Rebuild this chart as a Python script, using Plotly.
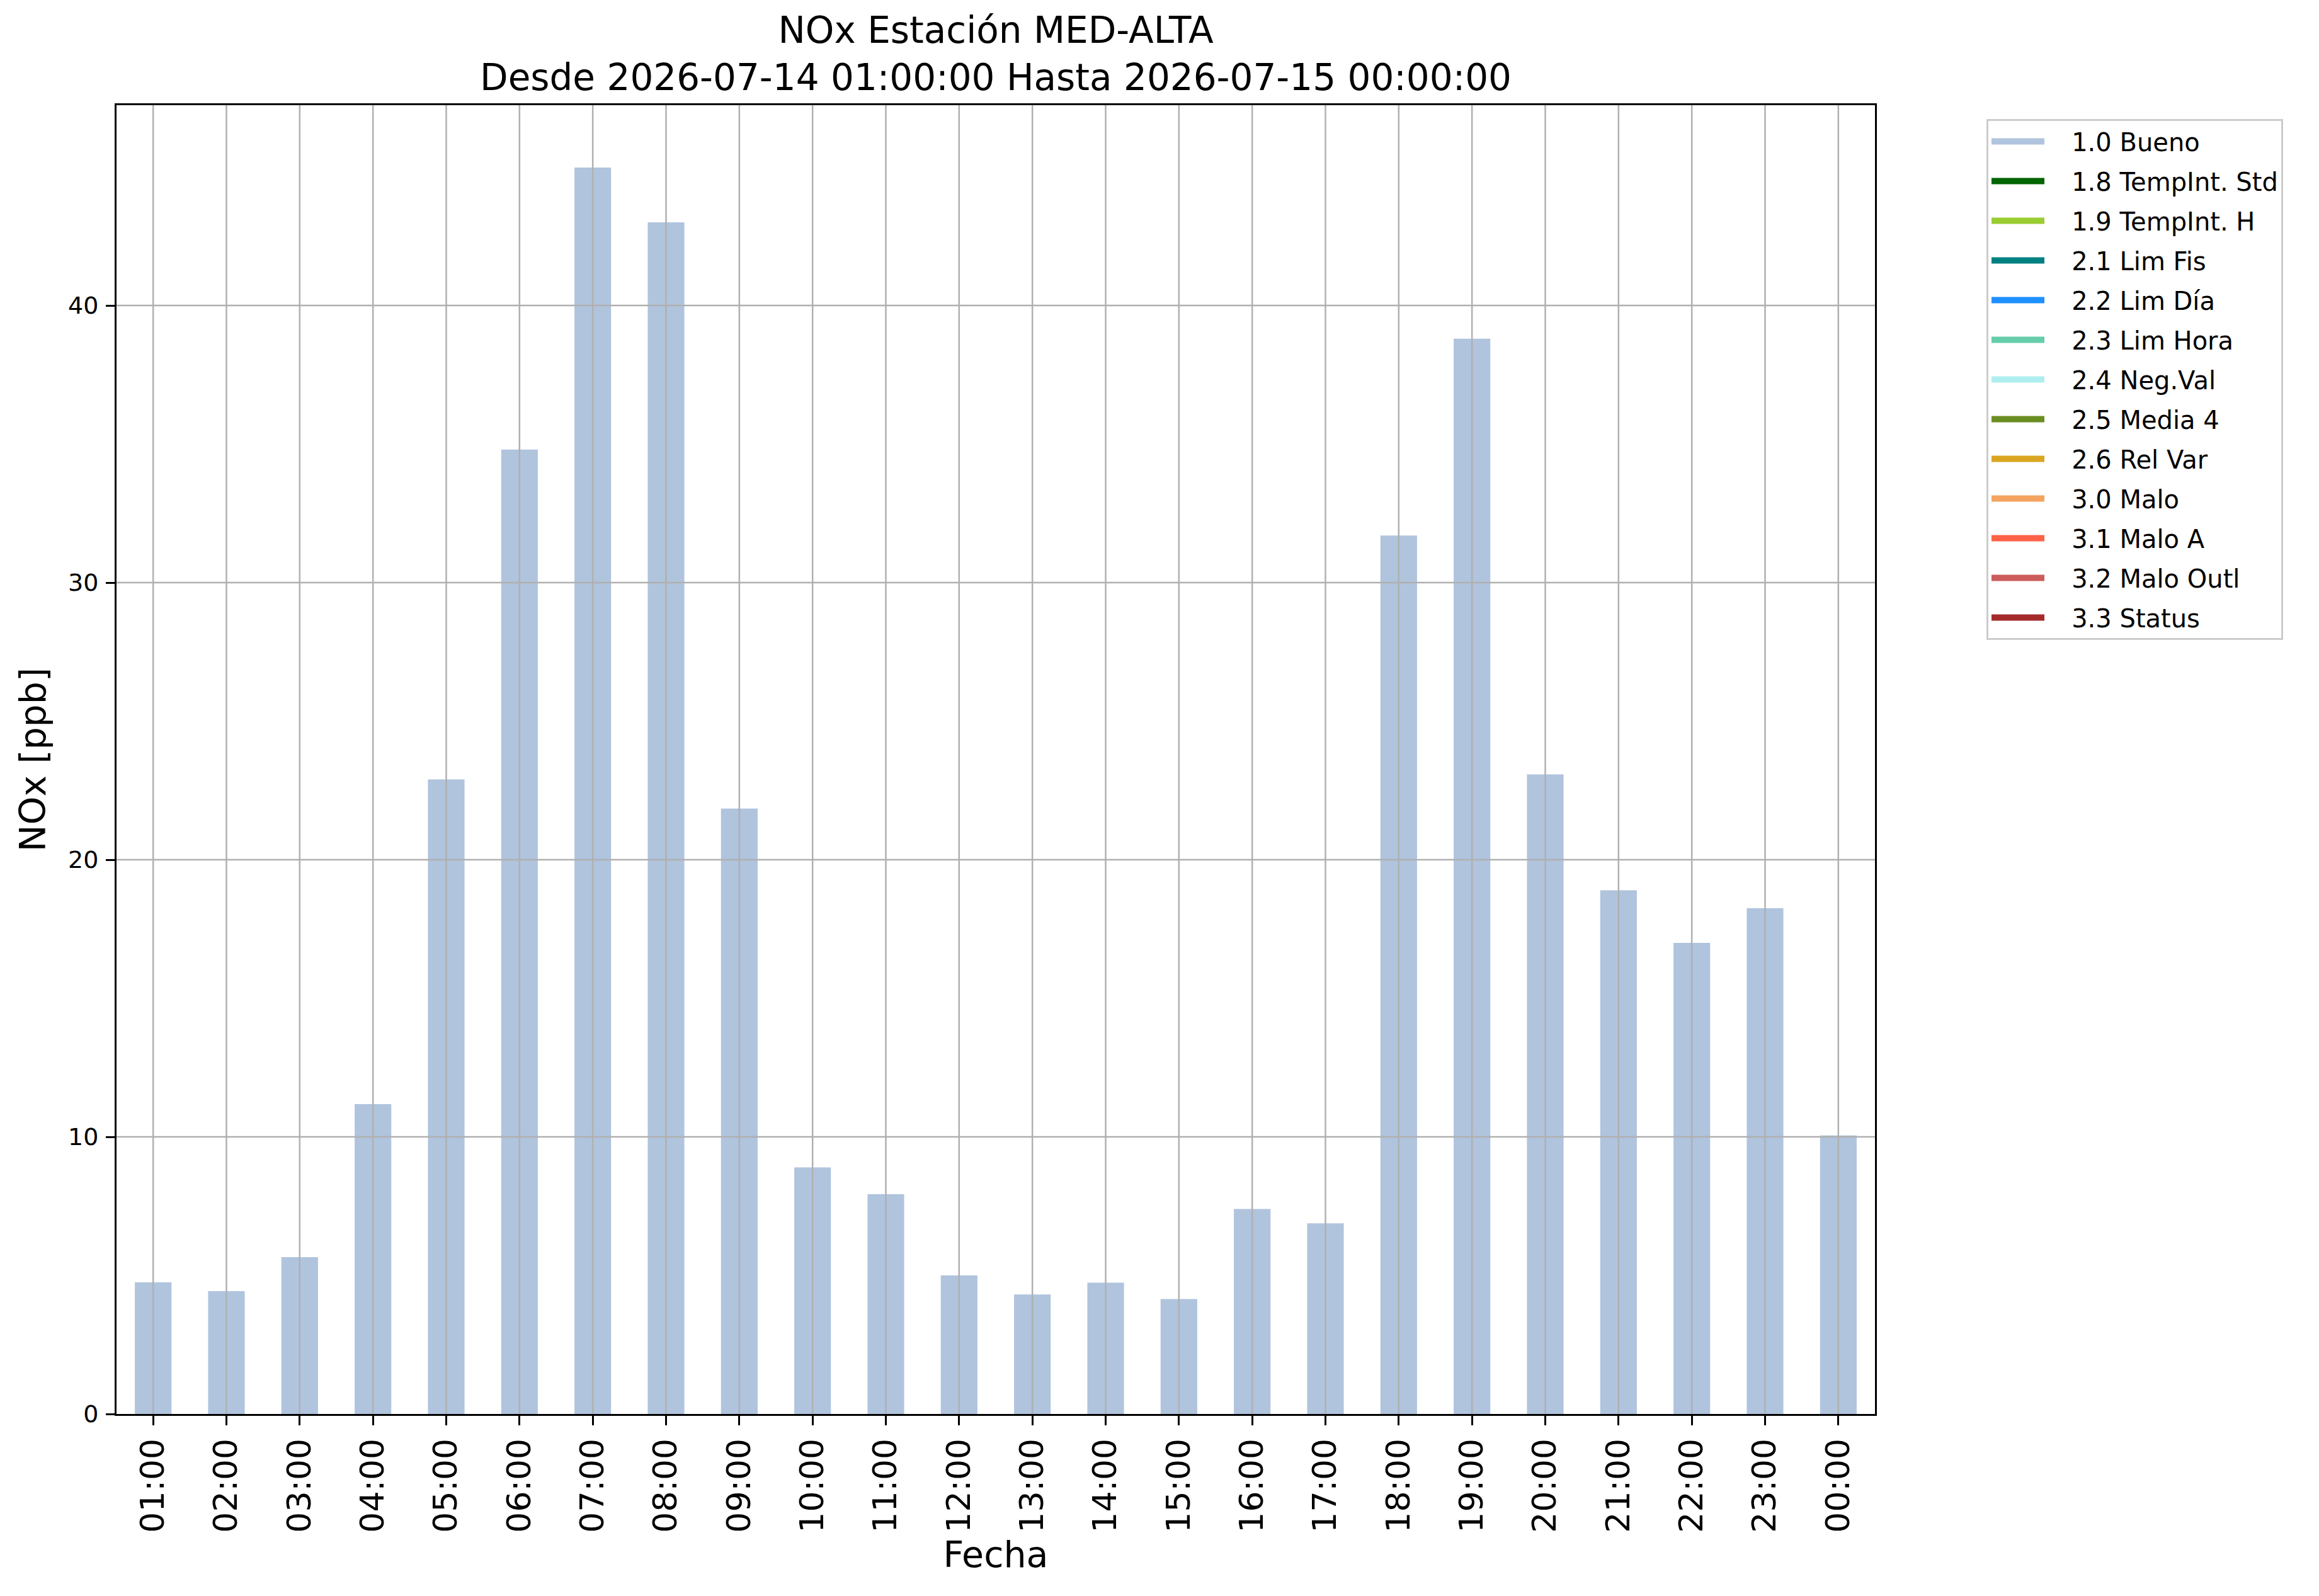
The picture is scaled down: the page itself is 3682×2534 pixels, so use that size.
import plotly.graph_objects as go

# --- Datos ---
HORAS = ['01:00', '02:00', '03:00', '04:00', '05:00', '06:00', '07:00', '08:00',
         '09:00', '10:00', '11:00', '12:00', '13:00', '14:00', '15:00', '16:00',
         '17:00', '18:00', '19:00', '20:00', '21:00', '22:00', '23:00', '00:00']

# NOx [ppb] con flag 1.0 (Bueno); el resto de flags no tiene datos en el periodo
NOX_BUENO = [4.75, 4.43, 5.66, 11.18, 22.9, 34.8, 44.98, 43.0,
             21.85, 8.9, 7.93, 5.0, 4.31, 4.74, 4.15, 7.4,
             6.88, 31.7, 38.8, 23.08, 18.9, 17.0, 18.25, 10.05]
SIN_DATOS = [None] * len(HORAS)

FLAGS = ['1.0 Bueno', '1.8 TempInt. Std', '1.9 TempInt. H', '2.1 Lim Fis',
         '2.2 Lim Día', '2.3 Lim Hora', '2.4 Neg.Val', '2.5 Media 4',
         '2.6 Rel Var', '3.0 Malo', '3.1 Malo A', '3.2 Malo Outl', '3.3 Status']
COLORES = ['#B0C4DE', '#006400', '#9ACD32', '#008080', '#1E90FF', '#66CDAA',
           '#AFEEEE', '#6B8E23', '#DAA520', '#F4A460', '#FF6347', '#CD5C5C',
           '#A52A2A']

Y_TICKS = [0, 10, 20, 30, 40]

TITULO = 'NOx Estación MED-ALTA<br>Desde 2026-07-14 01:00:00 Hasta 2026-07-15 00:00:00'
FUENTE = 'DejaVu Sans'
GRIS_GRID = '#b0b0b0'
SEP_LEYENDA = '\u00a0\u00a0\u00a0'  # hueco entre el parche y el texto de la leyenda


def main():
    fig = go.Figure()

    # una serie de barras por flag, solo "Bueno" tiene valores
    for i, (flag, color) in enumerate(zip(FLAGS, COLORES)):
        valores = NOX_BUENO if i == 0 else SIN_DATOS
        fig.add_trace(go.Bar(
            x=HORAS,
            y=valores,
            name=flag,
            legendgroup=flag,
            showlegend=False,
            marker=dict(color=color, line=dict(width=0)),
            width=0.5,
        ))
        # entrada de leyenda (franja de color ancha, como el parche de matplotlib)
        fig.add_trace(go.Scatter(
            x=[None],
            y=[None],
            name=SEP_LEYENDA + flag,
            legendgroup=flag,
            mode='lines',
            line=dict(color=color, width=28),
            hoverinfo='skip',
        ))

    # rejilla encima de las barras (como en matplotlib)
    shapes = []
    for h in HORAS:
        shapes.append(dict(type='line', layer='above', xref='x', yref='paper',
                           x0=h, x1=h, y0=0, y1=1,
                           line=dict(color=GRIS_GRID, width=2.5)))
    for v in Y_TICKS:
        if v == 0:
            continue
        shapes.append(dict(type='line', layer='above', xref='paper', yref='y',
                           x0=0, x1=1, y0=v, y1=v,
                           line=dict(color=GRIS_GRID, width=2.5)))

    ymax = max(NOX_BUENO) * 1.05

    fig.update_layout(
        width=3682,
        height=2534,
        barmode='overlay',
        paper_bgcolor='white',
        plot_bgcolor='white',
        font=dict(family=FUENTE, color='black'),
        margin=dict(l=177, r=713, t=159, b=297),
        title=dict(
            text=TITULO,
            x=0.5, xref='paper', xanchor='center',
            y=0.9765, yref='container', yanchor='top',
            font=dict(size=58, family=FUENTE, color='black'),
        ),
        xaxis=dict(
            type='category',
            range=[-0.5, len(HORAS) - 0.5],
            tickangle=-90,
            tickfont=dict(size=52),
            ticks='outside', ticklen=15, tickwidth=3, tickcolor='black',
            showline=True, linecolor='black', linewidth=3, mirror=True,
            showgrid=False,
            title=dict(text='Fecha', font=dict(size=57), standoff=16),
        ),
        yaxis=dict(
            range=[0, ymax],
            tickvals=Y_TICKS,
            tickfont=dict(size=38),
            ticks='outside', ticklen=14, tickwidth=3, tickcolor='black',
            ticklabelstandoff=4,
            showline=True, linecolor='black', linewidth=3, mirror=True,
            showgrid=False, zeroline=False,
            title=dict(text='NOx [ppb]', font=dict(size=57), standoff=18),
        ),
        legend=dict(
            x=1.0634, y=0.9894, xanchor='left', yanchor='top',
            bgcolor='white', bordercolor='#cccccc', borderwidth=3,
            font=dict(size=40, family=FUENTE, color='black'),
            tracegroupgap=8,
            itemwidth=84,
            traceorder='grouped',
        ),
        shapes=shapes,
    )

    fig.write_html('out.html')


if __name__ == '__main__':
    main()
